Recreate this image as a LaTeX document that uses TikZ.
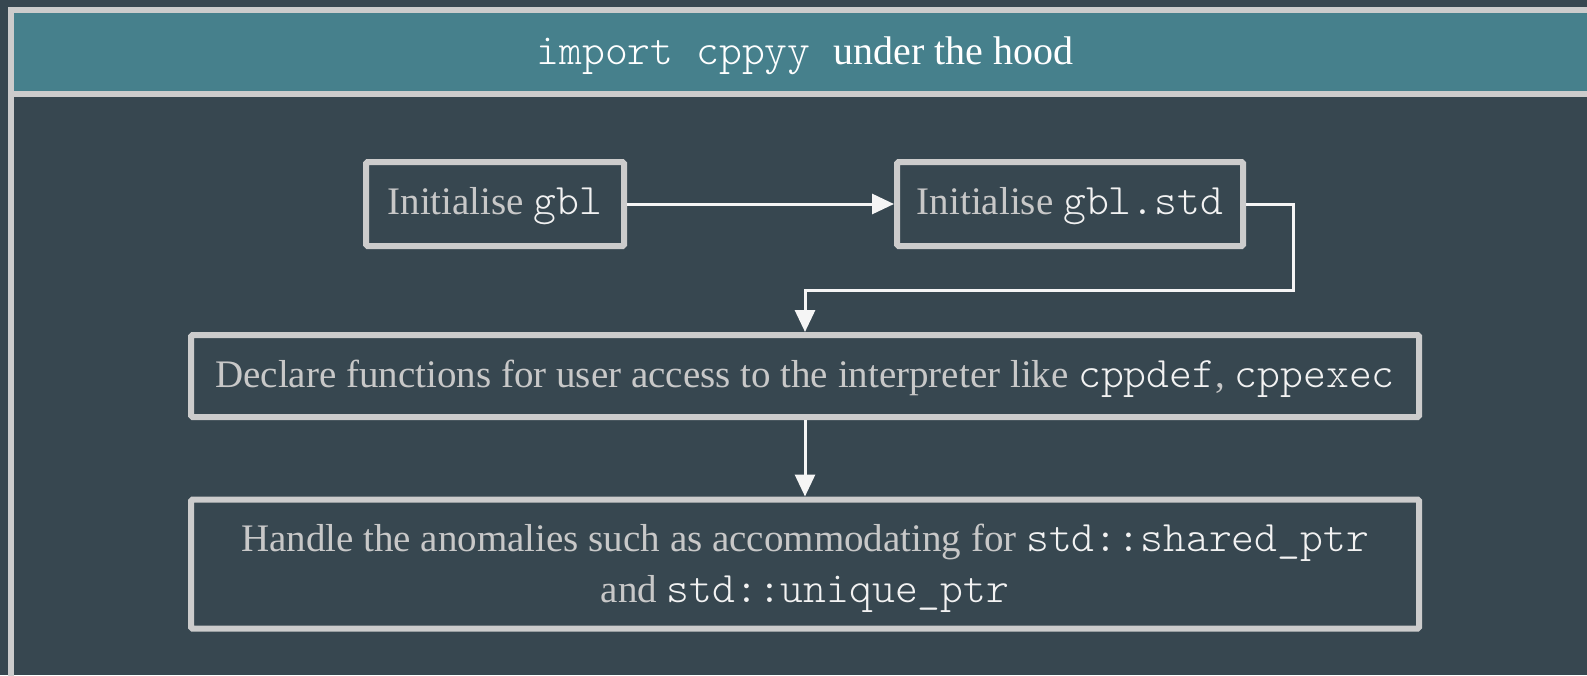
\documentclass[tikz,border=0pt]{standalone}
\usepackage{fontspec}
\setmainfont{Liberation Serif}
\setmonofont{Latin Modern Mono Light}
\usetikzlibrary{arrows.meta}

\definecolor{bgdark}{HTML}{374750}
\definecolor{headfill}{HTML}{46808C}
\definecolor{framegray}{HTML}{CCCCCC}
\definecolor{textgray}{HTML}{C8C8C8}
\definecolor{codewhite}{HTML}{F2F2F2}
\definecolor{arrowwhite}{HTML}{F5F5F5}

% inline code in a light typewriter face
\newcommand{\code}[1]{{\color{codewhite}\fontsize{43.5}{51}\selectfont\ttfamily #1}}
% invisible strut that sets the text's vertical placement in a box
\newcommand{\boxstrut}[1]{\rule[-10pt]{0pt}{#1}}

\tikzset{
  stepbox/.style={draw=framegray, line width=6pt, rounded corners=1.5pt,
    fill=bgdark, text=textgray, align=center,
    font=\fontsize{39}{51}\selectfont, inner sep=0pt},
  flow/.style={draw=arrowwhite, line width=3pt,
    -{Triangle[length=22pt, width=20pt]}},
}

\begin{document}
\begin{tikzpicture}[x=1pt, y=-1pt]
  \useasboundingbox (0,0) rectangle (1587,675);
  \clip (0,0) rectangle (1587,675);
  % page background
  \fill[bgdark] (0,0) rectangle (1587,675);
  % header band and outer frame
  \fill[headfill] (11,10) rectangle (1602,94);
  \draw[framegray, line width=6pt] (11,700) -- (11,10) -- (1620,10);
  \draw[framegray, line width=6pt] (11,94) -- (1620,94);

  % title
  \node[text=white, font=\fontsize{40}{48}\selectfont, anchor=base]
    (title) at (805,64) {\code{\color{white}import cppyy\ }under the hood};

  % steps
  \node[stepbox, minimum width=258pt, minimum height=84pt] (b1) at (495,204)
    {\boxstrut{42pt}Initialise \code{gbl}};
  \node[stepbox, minimum width=346pt, minimum height=84pt] (b2) at (1070,204)
    {\boxstrut{42pt}Initialise \code{gbl.std}};
  \node[stepbox, minimum width=1228pt, minimum height=82pt] (b3) at (805,376)
    {\boxstrut{43pt}Declare functions for user access to the interpreter like \code{cppdef}, \code{cppexec}};
  \node[stepbox, minimum width=1228pt, minimum height=129pt] (b4) at (805,564)
    {\boxstrut{46pt}Handle the anomalies such as accommodating for \code{std::shared\_ptr}\\
     and \code{std::unique\_ptr}\boxstrut{10pt}};

  \coordinate (bend) at (1293,290);

  % connectors
  \draw[flow] (b1.east) -- (b2.west);
  \draw[flow] (b2.east) -| (bend) -| (b3.north);
  \draw[flow] (b3.south) -- (b4.north);
\end{tikzpicture}
\end{document}
